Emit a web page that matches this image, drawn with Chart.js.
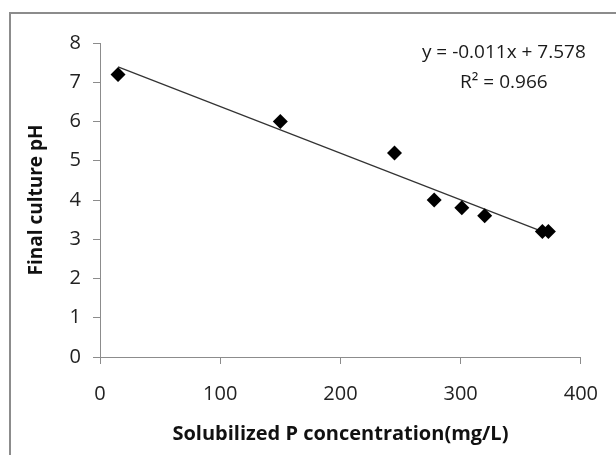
<!DOCTYPE html>
<html>
<head>
<meta charset="utf-8">
<script src="https://cdn.jsdelivr.net/npm/chart.js@4.4.0/dist/chart.umd.min.js"></script>
<style>
  body { margin: 0; background: #fff; }
  #wrap { position: relative; width: 616px; height: 455px; overflow: hidden; }
  #frame { position: absolute; left: 9px; top: 12px; width: 700px; height: 600px; border: 2px solid #8c8c8c; }
  canvas { position: absolute; left: 0; top: 0; }
</style>
</head>
<body>
<div id="wrap">
  <div id="frame"></div>
  <canvas id="myChart" width="616" height="455"></canvas>
</div>
<script>
// solubilized P (mg/L) vs final pH
const concP = [15, 150, 245, 278, 301, 320, 368, 373];
const finalPH = [7.2, 6.0, 5.2, 4.0, 3.8, 3.6, 3.2, 3.2];
const eqText = ["y = -0.011x + 7.578", "R² = 0.966"];

const FONT = "'Open Sans', 'Liberation Sans', sans-serif";

// least squares trendline over the data range
const n = concP.length;
const mx = concP.reduce((a, b) => a + b, 0) / n;
const my = finalPH.reduce((a, b) => a + b, 0) / n;
let sxy = 0, sxx = 0;
for (let i = 0; i < n; i++) {
  sxy += (concP[i] - mx) * (finalPH[i] - my);
  sxx += (concP[i] - mx) * (concP[i] - mx);
}
const slope = sxy / sxx;
const icpt = my - slope * mx;
const xMin = Math.min(...concP), xMax = Math.max(...concP);
const trend = [
  { x: xMin, y: icpt + slope * xMin },
  { x: xMax, y: icpt + slope * xMax },
];

const eqLabel = {
  id: "eqLabel",
  afterDraw(chart) {
    const { ctx, chartArea } = chart;
    ctx.save();
    ctx.fillStyle = "#1a1a1a";
    ctx.font = "19px " + FONT;
    ctx.textAlign = "center";
    ctx.textBaseline = "middle";
    const cx = chartArea.right - 77;
    ctx.fillText(eqText[0], cx, chartArea.top + 10);
    ctx.fillText(eqText[1], cx, chartArea.top + 40);
    ctx.restore();
  },
};

const ctx = document.getElementById("myChart").getContext("2d");
const myChart = new Chart(ctx, {
  type: "scatter",
  data: {
    datasets: [
      {
        label: "pH",
        data: concP.map((x, i) => ({ x: x, y: finalPH[i] })),
        pointStyle: "rectRot",
        pointRadius: 7.5,
        pointHoverRadius: 7.5,
        backgroundColor: "#000",
        borderColor: "#000",
        borderWidth: 0,
      },
      {
        label: "trend",
        type: "line",
        data: trend,
        borderColor: "#333",
        borderWidth: 1.2,
        pointRadius: 0,
        fill: false,
      },
    ],
  },
  options: {
    responsive: false,
    animation: false,
    layout: { padding: { left: 10, top: 43, right: 34, bottom: 0 } },
    plugins: { legend: { display: false }, tooltip: { enabled: false } },
    scales: {
      x: {
        type: "linear",
        min: 0,
        max: 400,
        afterFit: (s) => { s.height = 98; },
        ticks: { stepSize: 100, color: "#222", padding: 18, font: { family: FONT, size: 20 } },
        grid: { drawOnChartArea: false, color: "#8c8c8c", tickLength: 7 },
        border: { color: "#8c8c8c" },
        title: {
          display: true,
          text: "Solubilized P concentration(mg/L)",
          color: "#111",
          font: { family: FONT, size: 20, weight: "bold" },
          padding: { top: 0, bottom: 9 },
        },
      },
      y: {
        min: 0,
        max: 8,
        afterFit: (s) => { s.width = 90; },
        ticks: { stepSize: 1, color: "#222", padding: 12, font: { family: FONT, size: 20 } },
        grid: { drawOnChartArea: false, color: "#8c8c8c", tickLength: 7 },
        border: { color: "#8c8c8c" },
        title: {
          display: true,
          text: "Final culture pH",
          color: "#111",
          font: { family: FONT, size: 19, weight: "bold" },
          padding: { top: 15, bottom: 0 },
        },
      },
    },
  },
  plugins: [eqLabel],
});
</script>
</body>
</html>
